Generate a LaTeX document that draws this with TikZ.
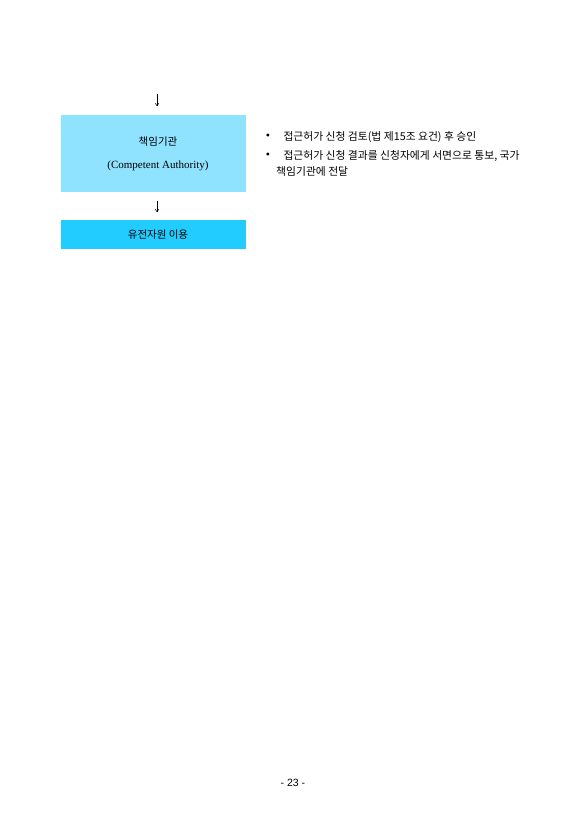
\documentclass[tikz,border=0pt]{standalone}
\usepackage{fontspec}
\setmainfont{Liberation Serif}
\newfontfamily\kr{Noto Sans CJK KR}
\newfontfamily\pagefont{Liberation Sans}
\usetikzlibrary{positioning,arrows.meta}
\definecolor{authblue}{RGB}{143,227,255}
\definecolor{useblue}{RGB}{34,204,255}

\begin{document}
\begin{tikzpicture}[x=1pt,y=-1pt,
    box/.style={anchor=north west,inner sep=0pt,minimum width=185pt},
    down/.style={-{To[length=3pt,width=4pt]},line width=0.5pt},
    label/.style={inner sep=0pt,font=\kr\fontsize{10.5}{12}\selectfont},
    note/.style={anchor=west,inner sep=0pt,font=\kr\fontsize{10.8}{12}\selectfont}]
    \useasboundingbox (0,0) rectangle (587,830);

    \node [box,fill=authblue,minimum height=77pt] (CA) at (61,115) {} ;
    \node [label] (CAk) at (158,142) {책임기관} ;
    \node [inner sep=0pt,font=\fontsize{11}{12}\selectfont] (CAe) at (158,166) {(Competent Authority)} ;
    \node [box,fill=useblue,minimum height=29pt] (Use) at (61,220) {} ;
    \node [label] (Usek) at (158,234.5) {유전자원 이용} ;

    \coordinate (in) at (157,94) ;
    \coordinate (inend) at (157,106) ;
    \coordinate (mid) at (157,201) ;
    \coordinate (midend) at (157,212) ;
    \draw [down] (in) -- (inend);
    \draw [down] (mid) -- (midend);

    % notes on the right
    \node [inner sep=0pt,font=\fontsize{12}{12}\selectfont] (b1) at (268,137) {\textbullet} ;
    \node [note,right=13pt of b1] (n1) {접근허가 신청 검토(법 제15조 요건) 후 승인} ;
    \node [inner sep=0pt,font=\fontsize{12}{12}\selectfont] (b2) at (268,156) {\textbullet} ;
    \node [note,right=13pt of b2] (n2) {접근허가 신청 결과를 신청자에게 서면으로 통보, 국가} ;
    \node [note] (n3) at (276,171) {책임기관에 전달} ;

    \node [inner sep=0pt,font=\pagefont\fontsize{10.5}{12}\selectfont] (page) at (293,783) {- 23 -} ;
\end{tikzpicture}
\end{document}
